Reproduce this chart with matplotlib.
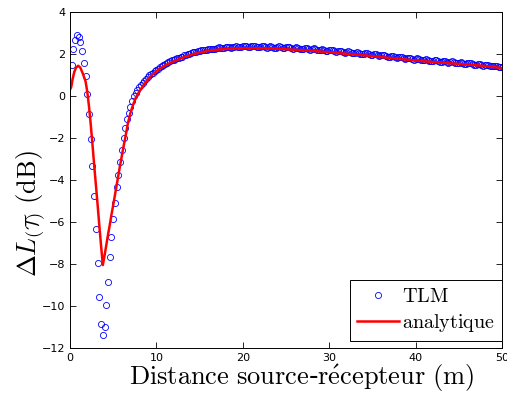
import numpy as np
import matplotlib
matplotlib.use("Agg")
import matplotlib.pyplot as plt

plt.rcParams['mathtext.fontset'] = 'cm'

# TLM points on a 0.2 m grid (0.2 ... 50 m)
x_tlm = np.arange(1, 251) * 0.2
y_tlm = [1.48, 2.22, 2.65, 2.90, 2.82, 2.56, 2.14, 1.59, 0.97, 0.08,
         -0.87, -2.05, -3.33, -4.76, -6.33, -7.97, -9.59, -10.86, -11.37, -10.99,
         -9.97, -8.87, -7.68, -6.70, -5.87, -5.08, -4.35, -3.76, -3.13, -2.55,
         -2.00, -1.52, -1.10, -0.80, -0.50, -0.22, 0.00, 0.16, 0.30, 0.42,
         0.52, 0.62, 0.72, 0.80, 0.90, 0.98, 1.05, 1.10, 1.17, 1.24,
         1.30, 1.36, 1.42, 1.48, 1.52, 1.55, 1.60, 1.66, 1.70, 1.72,
         1.76, 1.81, 1.83, 1.85, 1.88, 1.93, 1.97, 1.98, 1.99, 2.03,
         2.08, 2.10, 2.10, 2.12, 2.16, 2.19, 2.18, 2.17, 2.20, 2.24,
         2.26, 2.25, 2.23, 2.25, 2.29, 2.31, 2.29, 2.27, 2.29, 2.33,
         2.35, 2.33, 2.30, 2.31, 2.35, 2.37, 2.35, 2.31, 2.32, 2.36,
         2.38, 2.36, 2.32, 2.32, 2.36, 2.39, 2.37, 2.33, 2.32, 2.35,
         2.38, 2.36, 2.31, 2.30, 2.34, 2.37, 2.35, 2.30, 2.29, 2.33,
         2.36, 2.34, 2.29, 2.27, 2.31, 2.34, 2.32, 2.27, 2.25, 2.29,
         2.32, 2.30, 2.25, 2.22, 2.26, 2.29, 2.27, 2.22, 2.20, 2.24,
         2.27, 2.25, 2.20, 2.17, 2.20, 2.23, 2.21, 2.16, 2.14, 2.18,
         2.21, 2.19, 2.14, 2.11, 2.13, 2.16, 2.14, 2.09, 2.07, 2.10,
         2.13, 2.11, 2.06, 2.03, 2.05, 2.08, 2.06, 2.01, 1.99, 2.02,
         2.05, 2.03, 1.98, 1.95, 1.97, 2.00, 1.98, 1.93, 1.91, 1.94,
         1.97, 1.95, 1.90, 1.87, 1.88, 1.91, 1.89, 1.84, 1.82, 1.85,
         1.88, 1.86, 1.81, 1.78, 1.79, 1.82, 1.80, 1.75, 1.73, 1.76,
         1.79, 1.77, 1.72, 1.70, 1.71, 1.74, 1.72, 1.68, 1.66, 1.69,
         1.72, 1.70, 1.65, 1.63, 1.64, 1.67, 1.65, 1.61, 1.59, 1.62,
         1.65, 1.63, 1.58, 1.56, 1.57, 1.60, 1.58, 1.54, 1.52, 1.55,
         1.58, 1.56, 1.51, 1.49, 1.50, 1.53, 1.51, 1.47, 1.45, 1.48,
         1.50, 1.48, 1.44, 1.42, 1.43, 1.45, 1.43, 1.40, 1.39, 1.40]

# analytic curve
x_ana = [0.0, 0.15, 0.3, 0.5, 0.7, 0.95, 1.2, 1.5, 1.8, 2.0,
         2.2, 2.4, 2.6, 2.8, 3.0, 3.2, 3.4, 3.6, 3.8, 4.0,
         4.2, 4.4, 4.6, 4.8, 5.0, 5.2, 5.4, 5.6, 5.8, 6.0,
         6.2, 6.4, 6.7, 7.0, 7.3, 7.6, 8.0, 8.5, 9.0, 9.5,
         10.0, 10.5, 11.0, 12.0, 13.0, 14.0, 15.0, 16.0, 17.0, 18.0,
         19.0, 20.0, 22.0, 24.0, 26.0, 28.0, 30.0, 32.0, 34.0, 36.0,
         38.0, 40.0, 42.0, 44.0, 46.0, 48.0, 50.0]
y_ana = [0.30, 0.44, 0.80, 1.15, 1.35, 1.44, 1.35, 1.05, 0.70, 0.20,
         -0.50, -1.35, -2.30, -3.30, -4.25, -5.20, -6.20, -7.15, -8.05, -7.60,
         -7.10, -6.60, -6.15, -5.65, -5.20, -4.72, -4.25, -3.77, -3.30, -2.85,
         -2.40, -1.98, -1.30, -0.80, -0.42, -0.10, 0.20, 0.50, 0.78, 1.00,
         1.18, 1.33, 1.45, 1.65, 1.82, 1.96, 2.07, 2.15, 2.20, 2.24,
         2.26, 2.27, 2.27, 2.25, 2.20, 2.15, 2.08, 2.01, 1.94, 1.85,
         1.77, 1.69, 1.62, 1.56, 1.50, 1.43, 1.33]

fig = plt.figure(figsize=(5.07, 3.94), dpi=100)
ax = fig.add_axes([70 / 507, 1 - 348 / 394, 432 / 507, 336 / 394])

ax.plot(x_tlm, y_tlm, 'o', mfc='none', mec='#0000ff', ms=4.4, mew=0.6, label='TLM')
ax.plot(x_ana, y_ana, '-', color='#ff0000', lw=1.8, label='analytique')

ax.set_xlim(0, 50)
ax.set_ylim(-12, 4)
ax.set_xticks([0, 10, 20, 30, 40, 50])
ax.set_yticks(np.arange(-12, 5, 2))
ax.tick_params(direction='in', top=True, right=True, labelsize=8, length=4, width=0.6)
for s in ax.spines.values():
    s.set_linewidth(0.7)

ax.set_xlabel(r'$\mathrm{Distance\ source}$' + '-' + r'$\mathrm{r\acute{e}cepteur\ (m)}$',
              fontsize=19)
ax.xaxis.set_label_coords(0.535, -0.043, transform=ax.transAxes)
ax.xaxis.label.set_va('top')
ax.set_ylabel(r'$\Delta L_{(\mathcal{T})}\ \mathrm{(dB)}$', fontsize=19)
ax.yaxis.set_label_coords(-0.09, 0.40, transform=ax.transAxes)
ax.yaxis.label.set_va('center')

leg = ax.legend(loc='lower right', bbox_to_anchor=(1.0, 0.021), fancybox=False,
                edgecolor='black', framealpha=1, prop={'size': 14.5}, borderaxespad=0,
                handlelength=2.1, handletextpad=0.15, borderpad=0.35, labelspacing=0.3)
leg.get_frame().set_linewidth(0.7)
for t in leg.get_texts():
    t.set_text(r'$\mathrm{' + t.get_text() + '}$')

fig.savefig('out.png', dpi=100)
